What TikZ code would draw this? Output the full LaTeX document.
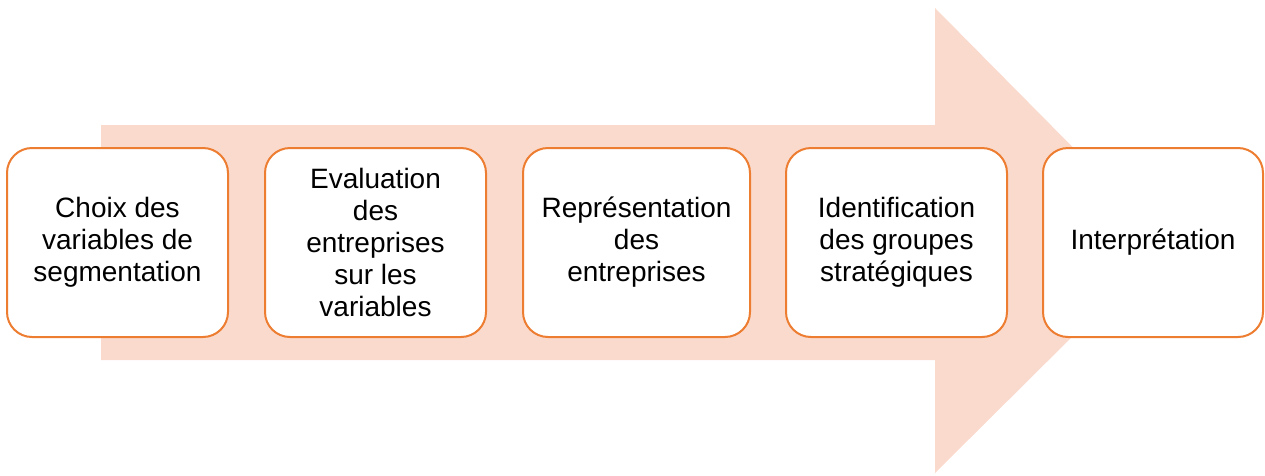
\documentclass[tikz,border=0pt]{standalone}
\usepackage{fontspec}
\setmainfont{Liberation Sans}
\usepackage{xcolor}

\definecolor{fleche}{HTML}{FBDACE}
\definecolor{bord}{HTML}{ED7D31}

\tikzset{
	etape/.style={draw=bord, line width=2pt, fill=white, rounded corners=25pt,
		minimum height=189pt, align=center, inner sep=0pt,
		font=\fontsize{28}{32}\selectfont}
}

\begin{document}
\begin{tikzpicture}[x=1pt, y=-1pt]

\useasboundingbox (0,0) rectangle (1265,475);

\def\ymid{242.5}

% big arrow behind the steps
\fill[fleche] (101,125) -- (935,125) -- (935,8) -- (1167,\ymid) -- (935,473) -- (935,360) -- (101,360) -- cycle;

\foreach \x/\w/\t [count=\i] in {
	117.5/221/{Choix des\\variables de\\segmentation},
	375.5/221/{Evaluation\\des\\entreprises\\sur les\\variables},
	636.5/227/{Représentation\\des\\entreprises},
	896.5/221/{Identification\\des groupes\\stratégiques},
	1153/220/{Interprétation}} {
	\node[etape, minimum width=\w pt] (etape\i) at (\x,\ymid) {\t};
}

\end{tikzpicture}
\end{document}
